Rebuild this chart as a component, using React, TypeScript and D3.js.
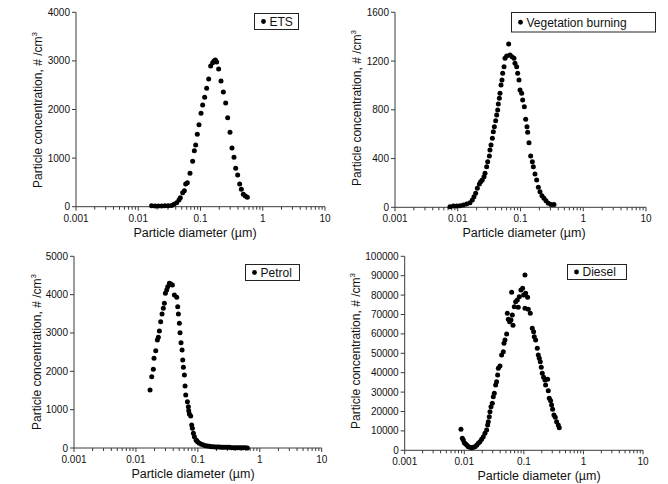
import React from "react";
import * as d3 from "d3";

// ---------- DATA (diameter in µm, concentration in #/cm3) ----------
const etsDiameter = [0.0164, 0.0186, 0.021, 0.0238, 0.0269, 0.0304, 0.0344, 0.0375, 0.0414, 0.0451, 0.0474, 0.0517, 0.055, 0.0578, 0.0614, 0.0678, 0.0748, 0.0796, 0.0836, 0.0889, 0.0946, 0.1019, 0.1083, 0.1166, 0.1256, 0.1353, 0.1457, 0.1568, 0.1648, 0.1731, 0.1819, 0.1957, 0.2135, 0.2327, 0.2537, 0.2732, 0.2978, 0.3206, 0.3452, 0.3672, 0.3954, 0.4257, 0.4528, 0.4875, 0.5249, 0.5652];
const etsConc = [21, 14, 14, 14, 21, 21, 27, 48, 82, 138, 185, 288, 329, 467, 494, 687, 934, 1152, 1270, 1490, 1687, 1922, 2093, 2251, 2436, 2628, 2895, 2963, 2998, 3019, 2977, 2833, 2586, 2360, 2134, 1831, 1531, 1208, 1016, 790, 652, 467, 358, 255, 220, 193];

const vegDiameter = [0.00752, 0.0085, 0.0096, 0.01086, 0.01227, 0.01387, 0.01567, 0.01708, 0.01815, 0.0193, 0.0205, 0.0221, 0.0232, 0.0246, 0.0262, 0.0272, 0.0289, 0.03, 0.0319, 0.0326, 0.0339, 0.0356, 0.0369, 0.0383, 0.0402, 0.0417, 0.0433, 0.0443, 0.046, 0.0471, 0.0489, 0.0507, 0.052, 0.0546, 0.0566, 0.0602, 0.0648, 0.068, 0.0732, 0.0788, 0.0817, 0.0869, 0.0901, 0.0946, 0.0982, 0.1044, 0.1083, 0.1151, 0.1209, 0.1269, 0.1301, 0.1366, 0.1452, 0.1543, 0.1601, 0.1702, 0.181, 0.1924, 0.2045, 0.2201, 0.2368, 0.2548, 0.2777, 0.3062, 0.3419];
const vegConc = [5, 11, 11, 13, 19, 27, 38, 60, 87, 115, 156, 191, 210, 224, 251, 279, 333, 374, 421, 470, 511, 566, 620, 661, 711, 757, 798, 847, 894, 935, 1003, 1044, 1099, 1154, 1222, 1241, 1340, 1249, 1236, 1222, 1181, 1154, 1099, 1044, 962, 935, 880, 826, 722, 661, 615, 530, 421, 374, 333, 273, 224, 164, 128, 95, 74, 54, 33, 24, 22];

const petrolDiameter = [0.0169, 0.018, 0.0191, 0.0196, 0.0209, 0.0222, 0.023, 0.0239, 0.0251, 0.0264, 0.0277, 0.0288, 0.0299, 0.0314, 0.0326, 0.0347, 0.0364, 0.0388, 0.0418, 0.0456, 0.0473, 0.0485, 0.0503, 0.0516, 0.0535, 0.0556, 0.057, 0.0584, 0.0606, 0.0621, 0.0637, 0.0678, 0.0703, 0.0712, 0.073, 0.0767, 0.0796, 0.0816, 0.0847, 0.0879, 0.0935, 0.0959, 0.0995, 0.1059, 0.1141, 0.1229, 0.1323, 0.1426, 0.1536, 0.1654, 0.1782, 0.1919, 0.2068, 0.2228, 0.24, 0.2585, 0.2785, 0.2999, 0.3231, 0.348, 0.375, 0.404, 0.435, 0.469, 0.505, 0.544, 0.586, 0.631];
const petrolConc = [1513, 1861, 2052, 2339, 2539, 2817, 2886, 3052, 3295, 3495, 3643, 3773, 4034, 4121, 4208, 4295, 4278, 4251, 3991, 3930, 3686, 3495, 3252, 3008, 2747, 2556, 2295, 2104, 1904, 1617, 1382, 1209, 1078, 974, 887, 835, 600, 513, 383, 296, 209, 191, 157, 122, 96, 78, 61, 52, 44, 35, 35, 26, 26, 26, 17, 17, 17, 17, 17, 9, 9, 9, 9, 9, 9, 9, 5, 3];

const dieselDiameter = [0.0088, 0.00927, 0.00963, 0.01001, 0.01054, 0.0111, 0.01169, 0.01247, 0.01329, 0.01418, 0.01512, 0.01612, 0.0172, 0.01834, 0.01956, 0.02086, 0.02225, 0.02373, 0.02466, 0.0253, 0.0263, 0.027, 0.0281, 0.02954, 0.0307, 0.0319, 0.0336, 0.0349, 0.0363, 0.0373, 0.0397, 0.0424, 0.0452, 0.0464, 0.0482, 0.0514, 0.0528, 0.0548, 0.0577, 0.0608, 0.064, 0.0657, 0.0624, 0.0691, 0.0728, 0.0776, 0.0806, 0.0838, 0.0894, 0.0954, 0.1043, 0.0991, 0.1071, 0.1156, 0.1043, 0.1187, 0.1282, 0.1385, 0.1458, 0.1497, 0.1576, 0.168, 0.1747, 0.1816, 0.1887, 0.1961, 0.2038, 0.2147, 0.226, 0.2505, 0.2318, 0.257, 0.2672, 0.2812, 0.2922, 0.3039, 0.3199, 0.3369, 0.3547, 0.3783, 0.3932];
const dieselConc = [10819, 6180, 5321, 3947, 3260, 2572, 1885, 1542, 1370, 1542, 1885, 2572, 3603, 4462, 5665, 7039, 8757, 10475, 13052, 14770, 17347, 19924, 22501, 24219, 27655, 29373, 33668, 35386, 38822, 42258, 43460, 49130, 50848, 55143, 56861, 59953, 70605, 67513, 66310, 67169, 69746, 64420, 81428, 74041, 76618, 77477, 73697, 79195, 82631, 83490, 90362, 80054, 80913, 78852, 73182, 72667, 70605, 62874, 61156, 58579, 56861, 52566, 49130, 47412, 45694, 42773, 39681, 37619, 36245, 36588, 33668, 30747, 26796, 25594, 23360, 21127, 18206, 17004, 14770, 13052, 11678];

const xTickValues = [0.001, 0.01, 0.1, 1, 10];
const xTickLabels = ["0.001", "0.01", "0.1", "1", "10"];
const etsYTicks = [0, 1000, 2000, 3000, 4000];
const vegYTicks = [0, 400, 800, 1200, 1600];
const petrolYTicks = [0, 1000, 2000, 3000, 4000, 5000];
const dieselYTicks = [0, 10000, 20000, 30000, 40000, 50000, 60000, 70000, 80000, 90000, 100000];

const xTitle = "Particle diameter (µm)";
const yTitle = "Particle concentration, # /cm";

// ---------- LAYOUT ----------
const FONT = "'Liberation Sans', Arial, Helvetica, sans-serif";
const AXIS = "#3a3a3a";

type PanelProps = {
  name: string;
  xs: number[];
  ys: number[];
  yTicks: number[];
  x0: number; x1: number; yTop: number; yBottom: number;
  xTitleX: number; yTitleX: number; yTitleY: number;
  legend: { x: number; y: number; w: number; h: number };
};

function Panel(p: PanelProps) {
  const x = d3.scaleLog().domain([0.001, 10]).range([p.x0, p.x1]);
  const yMax = p.yTicks[p.yTicks.length - 1];
  const y = d3.scaleLinear().domain([0, yMax]).range([p.yBottom, p.yTop]);
  const minor = x.ticks().filter((t) => !xTickValues.some((v) => Math.abs(v - t) / v < 1e-6));
  const pts = p.xs.map((d, i) => [d, p.ys[i]] as [number, number]);
  return (
    <g>
      <line x1={p.x0} x2={p.x1} y1={p.yBottom} y2={p.yBottom} stroke={AXIS} strokeWidth={1} />
      <line x1={p.x0} x2={p.x0} y1={p.yTop} y2={p.yBottom} stroke={AXIS} strokeWidth={1} />
      {p.yTicks.map((t) => (
        <g key={"y" + t}>
          <line x1={p.x0 - 4} x2={p.x0} y1={y(t)} y2={y(t)} stroke={AXIS} />
          <text x={p.x0 - 6} y={y(t)} dy="0.35em" textAnchor="end" fontSize={10} fontFamily={FONT} fill="#111">
            {t}
          </text>
        </g>
      ))}
      {xTickValues.map((t, i) => (
        <g key={"x" + t}>
          <line x1={x(t)} x2={x(t)} y1={p.yBottom} y2={p.yBottom + 4} stroke={AXIS} />
          <text x={x(t)} y={p.yBottom + 15} textAnchor="middle" fontSize={10} fontFamily={FONT} fill="#111">
            {xTickLabels[i]}
          </text>
        </g>
      ))}
      {minor.map((t) => (
        <line key={"m" + t} x1={x(t)} x2={x(t)} y1={p.yBottom} y2={p.yBottom + 3} stroke={AXIS} />
      ))}
      <text x={p.xTitleX} y={p.yBottom + 30} textAnchor="middle" fontSize={12.5} fontFamily={FONT} fill="#111">
        {xTitle}
      </text>
      <text
        transform={`translate(${p.yTitleX},${p.yTitleY}) rotate(-90)`}
        textAnchor="middle"
        fontSize={12}
        fontFamily={FONT}
        fill="#111"
      >
        {yTitle}
        <tspan fontSize={8} dy={-5}>3</tspan>
      </text>
      {pts.map(([d, v], i) => (
        <circle key={i} cx={x(d)} cy={y(v)} r={2.5} fill="#000" />
      ))}
      <rect x={p.legend.x} y={p.legend.y} width={p.legend.w} height={p.legend.h} fill="#fff" stroke="#222" strokeWidth={1} />
      <circle cx={p.legend.x + 9} cy={p.legend.y + p.legend.h / 2} r={2.4} fill="#000" />
      <text x={p.legend.x + 15} y={p.legend.y + p.legend.h / 2} dy="0.36em" fontSize={12} fontFamily={FONT} fill="#111">
        {p.name}
      </text>
    </g>
  );
}

export default function App() {
  return (
    <svg
      width={668}
      height={484}
      style={{ position: "absolute", left: 0, top: 0, background: "#fff" }}
    >
      <rect x={0} y={0} width={668} height={484} fill="#fff" />
      <Panel
        name="ETS" xs={etsDiameter} ys={etsConc} yTicks={etsYTicks}
        x0={76} x1={325} yTop={12.3} yBottom={206.7}
        xTitleX={195} yTitleX={42} yTitleY={110}
        legend={{ x: 254.5, y: 13.5, w: 44, h: 16 }}
      />
      <Panel
        name="Vegetation burning" xs={vegDiameter} ys={vegConc} yTicks={vegYTicks}
        x0={395} x1={646} yTop={12.3} yBottom={207.3}
        xTitleX={524} yTitleX={361} yTitleY={108}
        legend={{ x: 511.5, y: 12.5, w: 144, h: 19.5 }}
      />
      <Panel
        name="Petrol" xs={petrolDiameter} ys={petrolConc} yTicks={petrolYTicks}
        x0={74} x1={321.7} yTop={256.3} yBottom={448}
        xTitleX={193} yTitleX={41} yTitleY={352}
        legend={{ x: 245.5, y: 264.5, w: 54, h: 16 }}
      />
      <Panel
        name="Diesel" xs={dieselDiameter} ys={dieselConc} yTicks={dieselYTicks}
        x0={404.7} x1={643} yTop={256.3} yBottom={450.3}
        xTitleX={539} yTitleX={360} yTitleY={351}
        legend={{ x: 567.5, y: 264.5, w: 59, h: 15 }}
      />
    </svg>
  );
}
